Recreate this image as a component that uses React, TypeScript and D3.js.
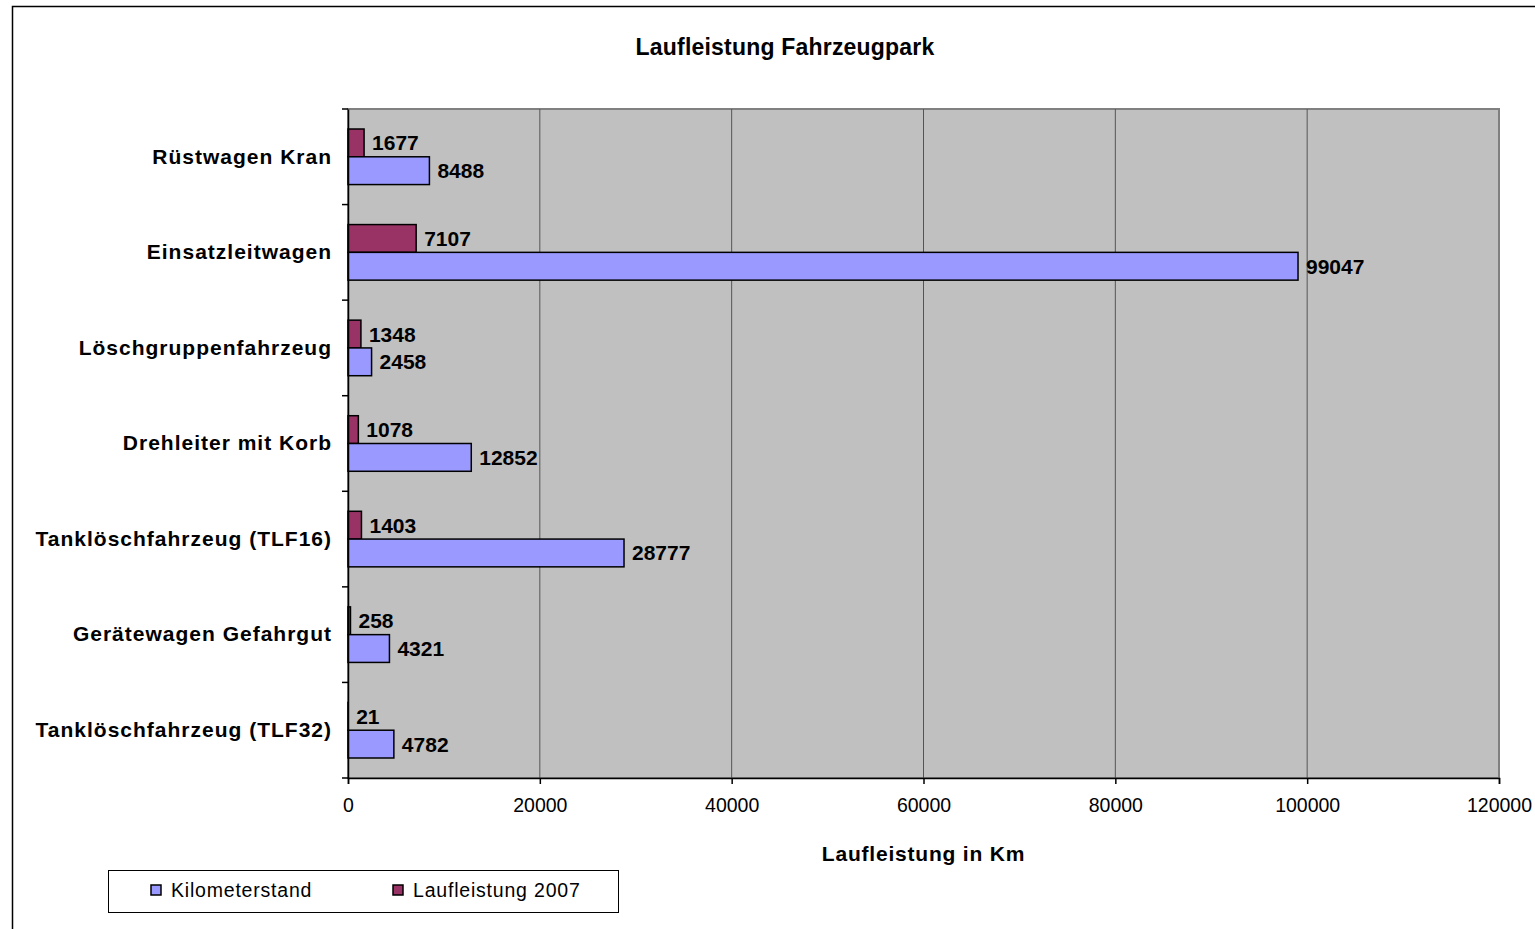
import React, { useRef, useEffect } from "react";
import * as d3 from "d3";

const categories = [
  "Rüstwagen Kran",
  "Einsatzleitwagen",
  "Löschgruppenfahrzeug",
  "Drehleiter mit Korb",
  "Tanklöschfahrzeug (TLF16)",
  "Gerätewagen Gefahrgut",
  "Tanklöschfahrzeug (TLF32)",
];
const kilometerstand = [8488, 99047, 2458, 12852, 28777, 4321, 4782];
const laufleistung2007 = [1677, 7107, 1348, 1078, 1403, 258, 21];
const xTicks = [0, 20000, 40000, 60000, 80000, 100000, 120000];

const series = [
  { name: "Laufleistung 2007", values: laufleistung2007, color: "#993366" },
  { name: "Kilometerstand", values: kilometerstand, color: "#9999FF" },
];
const legendOrder = [series[1], series[0]];

const App = () => {
  const svgRef = useRef<SVGSVGElement>(null);

  useEffect(() => {
    const svg = d3.select(svgRef.current);
    svg.selectAll("*").remove();
    const font = "'Liberation Sans', Arial, sans-serif";

    const left = 348, right = 1499, top = 109, bottom = 778;

    const x = d3.scaleLinear().domain([0, 120000]).range([left, right]);
    const y = d3.scaleBand<string>().domain(categories).range([top, bottom]);
    const inner = d3
      .scaleBand<string>()
      .domain(series.map((s) => s.name))
      .range([0, y.bandwidth()])
      .paddingOuter(0.72)
      .paddingInner(0);

    // outer chart border
    svg.append("rect")
      .attr("x", 12.5).attr("y", 6.5)
      .attr("width", 1600).attr("height", 1000)
      .attr("fill", "white").attr("stroke", "#000").attr("stroke-width", 1.5);

    svg.append("text")
      .attr("x", 785).attr("y", 47)
      .attr("text-anchor", "middle").attr("dominant-baseline", "central")
      .attr("font-family", font).attr("font-weight", "bold").attr("font-size", 23)
      .attr("letter-spacing", 0.2)
      .text("Laufleistung Fahrzeugpark");

    // plot area
    svg.append("rect")
      .attr("x", left).attr("y", top)
      .attr("width", right - left).attr("height", bottom - top)
      .attr("fill", "#C0C0C0").attr("stroke", "#808080").attr("stroke-width", 2);

    // gridlines
    svg.append("g")
      .selectAll("line")
      .data(xTicks.slice(1, -1))
      .join("line")
      .attr("x1", (d) => x(d)).attr("x2", (d) => x(d))
      .attr("y1", top).attr("y2", bottom)
      .attr("stroke", "#555").attr("stroke-width", 1);

    // bars
    series.forEach((s) => {
      const g = svg.append("g");
      g.selectAll("rect")
        .data(s.values)
        .join("rect")
        .attr("x", x(0))
        .attr("y", (_, i) => y(categories[i])! + inner(s.name)!)
        .attr("width", (d) => x(d) - x(0))
        .attr("height", inner.bandwidth())
        .attr("fill", s.color)
        .attr("stroke", "#000").attr("stroke-width", 1.5);
      g.selectAll("text")
        .data(s.values)
        .join("text")
        .attr("x", (d) => x(d) + 8)
        .attr("y", (_, i) => y(categories[i])! + inner(s.name)! + inner.bandwidth() / 2)
        .attr("dominant-baseline", "central")
        .attr("font-family", font).attr("font-weight", "bold").attr("font-size", 21)
        .text((d) => d);
    });

    // y axis
    const yAxis = svg.append("g")
      .attr("transform", `translate(${left},0)`)
      .call(d3.axisLeft(y).tickSize(0).tickPadding(16));
    yAxis.select(".domain").attr("stroke", "#000").attr("stroke-width", 1.5);
    yAxis.selectAll("text")
      .attr("font-family", font).attr("font-weight", "bold").attr("font-size", 21)
      .attr("letter-spacing", 1)
      .attr("fill", "#000");
    yAxis.selectAll("line.bound")
      .data(d3.range(categories.length + 1))
      .join("line")
      .attr("class", "bound")
      .attr("x1", -6).attr("x2", 0)
      .attr("y1", (i) => top + i * y.step()).attr("y2", (i) => top + i * y.step())
      .attr("stroke", "#000").attr("stroke-width", 1.5);

    // x axis
    const xAxis = svg.append("g")
      .attr("transform", `translate(0,${bottom})`)
      .call(d3.axisBottom(x).tickValues(xTicks).tickSize(6).tickPadding(14).tickFormat((d) => String(d)));
    xAxis.select(".domain").attr("stroke", "#000").attr("stroke-width", 1.5);
    xAxis.selectAll("line").attr("stroke", "#000").attr("stroke-width", 1.5);
    xAxis.selectAll("text")
      .attr("font-family", font).attr("font-size", 19.5).attr("fill", "#000");

    svg.append("text")
      .attr("x", (left + right) / 2).attr("y", 853)
      .attr("text-anchor", "middle").attr("dominant-baseline", "central")
      .attr("font-family", font).attr("font-weight", "bold").attr("font-size", 21)
      .attr("letter-spacing", 0.8)
      .text("Laufleistung in Km");

    // legend
    const lg = svg.append("g");
    lg.append("rect")
      .attr("x", 108.5).attr("y", 870.5).attr("width", 510).attr("height", 42)
      .attr("fill", "white").attr("stroke", "#000").attr("stroke-width", 1);
    const offsets = [151, 393];
    legendOrder.forEach((s, i) => {
      lg.append("rect")
        .attr("x", offsets[i]).attr("y", 885).attr("width", 10).attr("height", 10)
        .attr("fill", s.color).attr("stroke", "#000").attr("stroke-width", 1.5);
      lg.append("text")
        .attr("x", offsets[i] + 20).attr("y", 890)
        .attr("dominant-baseline", "central")
        .attr("font-family", font).attr("font-size", 19.5)
        .attr("letter-spacing", 0.8)
        .text(s.name);
    });
  }, []);

  return (
    <svg
      ref={svgRef}
      width={1535}
      height={929}
      style={{ position: "absolute", left: 0, top: 0, background: "white" }}
    />
  );
};

export default App;
